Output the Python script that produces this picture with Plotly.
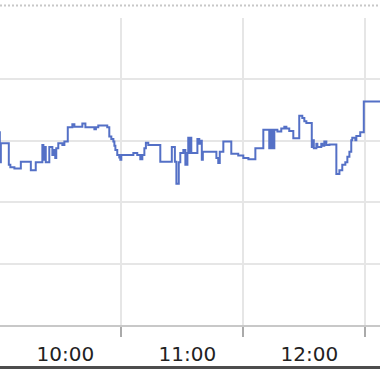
import plotly.graph_objects as go

DAY = "2024-01-01 "

times = [
    "09:59:00", "10:00:15", "10:00:45", "10:04:40", "10:05:25", "10:07:25", "10:10:35",
    "10:15:30", "10:17:55", "10:21:10", "10:21:40", "10:22:10", "10:22:50", "10:24:35",
    "10:26:05", "10:26:35", "10:27:30", "10:28:00", "10:29:00", "10:31:00", "10:32:00",
    "10:33:40", "10:35:55", "10:36:55", "10:40:50", "10:42:20", "10:46:45", "10:47:30",
    "10:48:40", "10:53:05", "10:54:05", "10:55:05", "10:56:05", "10:56:35", "10:57:05",
    "10:58:00", "10:59:00", "10:59:30", "11:00:00", "11:05:55", "11:07:50", "11:09:20",
    "11:10:20", "11:11:20", "11:12:05", "11:13:15", "11:19:10", "11:24:50", "11:26:20",
    "11:27:05", "11:28:15", "11:29:00", "11:30:30", "11:31:30", "11:32:30", "11:32:55",
    "11:33:25", "11:33:55", "11:34:25", "11:37:25", "11:38:20", "11:38:50", "11:39:35",
    "11:40:05", "11:46:45", "11:47:40", "11:48:25", "11:50:10", "11:54:05", "11:57:30",
    "12:00:00", "12:02:30", "12:05:55", "12:09:50", "12:12:45", "12:13:15", "12:13:45",
    "12:14:15", "12:14:45", "12:15:15", "12:16:45", "12:18:40", "12:20:10", "12:21:10",
    "12:22:35", "12:24:35", "12:27:30", "12:29:00", "12:30:00", "12:31:00", "12:33:40",
    "12:34:10", "12:34:40", "12:35:55", "12:36:25", "12:38:20", "12:38:50", "12:39:50",
    "12:40:50", "12:42:20", "12:45:45", "12:47:15", "12:48:40", "12:50:10", "12:51:10",
    "12:52:10", "12:53:05", "12:53:35", "12:55:05", "12:55:35", "12:57:30", "12:59:15",
    "13:09:20",
]

values = [
    3.14, 2.65, 2.96, 2.61, 2.57, 2.55, 2.66,
    2.52, 2.65, 2.93, 2.69, 2.90, 2.65, 2.90,
    2.77, 2.85, 2.72, 2.88, 2.96, 2.93, 2.99,
    3.22, 3.27, 3.23, 3.28, 3.22, 3.19, 3.22,
    3.25, 3.22, 3.07, 3.03, 2.99, 2.92, 2.85,
    2.77, 2.73, 2.69, 2.77, 2.80, 2.77, 2.70,
    2.77, 2.88, 2.97, 2.93, 2.66, 2.90, 2.66,
    2.30, 2.65, 2.80, 2.85, 2.61, 2.80, 3.05,
    2.80, 3.05, 2.80, 3.03, 2.95, 3.00, 2.69,
    2.82, 2.72, 2.64, 2.82, 2.99, 2.79, 2.76,
    2.72, 2.70, 2.88, 3.18, 2.88, 3.18, 2.88,
    3.18, 2.88, 3.18, 3.15, 3.20, 3.23, 3.20,
    3.16, 3.04, 3.41, 3.37, 3.32, 3.29, 2.90,
    3.01, 2.88, 2.95, 2.90, 2.95, 2.92, 2.99,
    2.93, 2.94, 2.46, 2.52, 2.61, 2.65, 2.74,
    2.82, 3.01, 3.05, 3.01, 3.08, 3.14, 3.64,
    3.64,
]

x_range = ["10:00:20", "13:07:13"]
y_range = [0, 5]

fig = go.Figure()
fig.add_trace(go.Scatter(
    x=[DAY + t for t in times], y=values, mode="lines",
    line=dict(color="#5470c6", width=2, shape="hv"),
    hoverinfo="skip", showlegend=False,
))

fig.update_layout(
    width=380, height=372,
    margin=dict(l=0, r=0, t=18, b=47, pad=0),
    paper_bgcolor="white", plot_bgcolor="white",
    font=dict(family="DejaVu Sans", size=20, color="#222"),
    xaxis=dict(
        type="date", range=[DAY + x_range[0], DAY + x_range[1]],
        dtick=3600000, tick0=DAY + "10:00:00", tickformat="%H:00",
        ticklabelmode="period", ticklabelshift=5,
        showgrid=True, gridcolor="#e6e6e6", gridwidth=2,
        ticks="outside", ticklen=10, tickwidth=2, tickcolor="#aaa",
        showline=True, linecolor="#c8c8c8", linewidth=2,
        zeroline=False,
    ),
    yaxis=dict(
        range=y_range, dtick=1, showticklabels=False,
        showgrid=True, gridcolor="#e6e6e6", gridwidth=2,
        zeroline=False, showline=False,
    ),
    shapes=[
        dict(type="line", xref="paper", yref="paper", x0=0, x1=1, y0=1.0407, y1=1.0407,
             line=dict(color="#c8c8c8", width=2, dash="2px,2px")),
        dict(type="line", xref="paper", yref="paper", x0=0, x1=1, y0=-0.1384, y1=-0.1384,
             line=dict(color="#4d4d4d", width=3)),
    ],
)

fig.write_html("out.html")
